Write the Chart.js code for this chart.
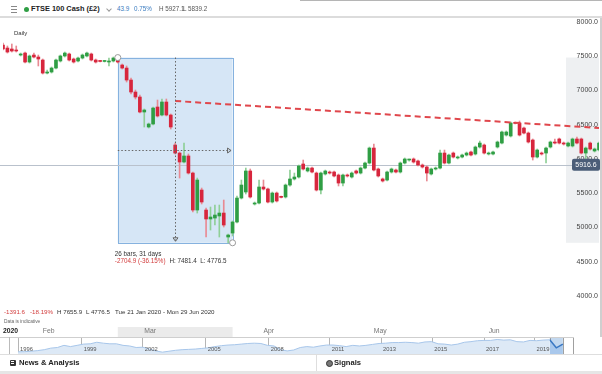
<!DOCTYPE html>
<html>
<head>
<meta charset="utf-8">
<script src="https://cdn.jsdelivr.net/npm/chart.js@4.4.1/dist/chart.umd.min.js"></script>
<style>
body{margin:0;width:602px;height:374px;overflow:hidden;background:#fff;position:relative;font-family:"Liberation Sans",Arial,sans-serif;color:#333}
.abs{position:absolute;white-space:nowrap;line-height:1}
canvas{position:absolute}
</style>
</head>
<body>
<canvas id="main" width="602" height="337" style="left:0;top:0"></canvas>
<canvas id="nav" width="556" height="17" style="left:18px;top:337px"></canvas>

<!-- header -->
<div class="abs" style="left:0;top:0;width:602px;height:16px;background:#fff;border-bottom:2px solid #dcdcdc"></div>
<div class="abs" style="left:300px;top:0;width:302px;height:1px;background:#b5b5b5"></div>
<div class="abs" style="left:11px;top:6px;width:6px;height:1px;background:#888;box-shadow:0 3px 0 #888,0 6px 0 #888"></div>
<div class="abs" style="left:24px;top:7px;width:5px;height:5px;border-radius:50%;background:#2f9e44"></div>
<div class="abs" style="left:31px;top:5px;font-size:7.4px;font-weight:bold;color:#222">FTSE 100 Cash (£2)</div>
<div class="abs" style="left:107px;top:7px;width:3px;height:3px;border-right:1px solid #999;border-bottom:1px solid #999;transform:rotate(45deg)"></div>
<div class="abs" style="left:117px;top:6px;font-size:6.3px;color:#3b7cc0">43.9</div>
<div class="abs" style="left:134px;top:6px;font-size:6.3px;color:#3b7cc0">0.75%</div>
<div class="abs" style="left:159px;top:6px;font-size:6.3px;color:#555">H 5927.1</div>
<div class="abs" style="left:183px;top:6px;font-size:6.3px;color:#555">L 5839.2</div>
<div class="abs" style="left:14px;top:30px;font-size:6px;color:#333">Daily</div>

<!-- right border -->
<div class="abs" style="left:600px;top:18px;width:2px;height:319px;background:#cfcfcf"></div>

<!-- info lines -->
<div class="abs" style="left:4px;top:309px;font-size:6.2px;color:#d23c3c">-1391.6</div>
<div class="abs" style="left:30px;top:309px;font-size:6.2px;color:#d23c3c">-18.19%</div>
<div class="abs" style="left:57px;top:309px;font-size:6.2px;color:#333">H 7655.9</div>
<div class="abs" style="left:86px;top:309px;font-size:6.2px;color:#333">L 4776.5</div>
<div class="abs" style="left:115px;top:309px;font-size:6.2px;color:#333">Tue 21 Jan 2020 - Mon 29 Jun 2020</div>
<div class="abs" style="left:4px;top:320px;font-size:4.8px;color:#666">Data is indicative</div>

<!-- navigator frame -->
<div class="abs" style="left:0;top:337px;width:574px;height:0;border-top:1px solid #cfcfcf"></div>
<div class="abs" style="left:9px;top:337px;width:1px;height:17px;background:#bbb"></div>
<div class="abs" style="left:0;top:354px;width:602px;height:0;border-top:1px solid #dedede"></div>

<!-- bottom bar -->
<div class="abs" style="left:0;top:371px;width:602px;height:3px;background:#e6e6e6"></div>
<div class="abs" style="left:316px;top:355px;width:1px;height:16px;background:#dedede"></div>
<div class="abs" style="left:10px;top:360px;width:6px;height:6px;background:#333;border-radius:1px"></div>
<div class="abs" style="left:11px;top:361px;width:3px;height:1px;background:#fff;box-shadow:0 2px 0 #fff"></div>
<div class="abs" style="left:19px;top:359px;font-size:7.6px;font-weight:bold;color:#222">News &amp; Analysis</div>
<div class="abs" style="left:326px;top:360px;width:5px;height:5px;border-radius:50%;border:1px solid #333;background:#777"></div>
<div class="abs" style="left:334px;top:359px;font-size:7.6px;font-weight:bold;color:#222">Signals</div>

<script>
// daily candles, Tue 21 Jan 2020 - Mon 29 Jun 2020
const candleOpen = [
  7664, 7620, 7606, 7591, 7518, 7547, 7416, 7518, 7489, 7445, 7255, 7270, 7328, 7431, 7504, 7533, 7460, 7431, 7474, 7504,
  7533, 7445, 7431, 7424, 7416, 7431, 7445, 7372, 7328, 7153, 6978, 6905, 6686, 6467, 6511, 6759, 6642, 6832, 6642, 6204,
  6087, 5956, 6044, 5795, 5255, 5547, 5255, 5124, 5138, 5168, 5211, 4861, 4919, 5080, 5430, 5518, 5825, 5343, 5357, 5591,
  5562, 5372, 5503, 5445, 5445, 5620, 5708, 5737, 5927, 5825, 5868, 5795, 5547, 5781, 5810, 5810, 5766, 5649, 5766, 5737,
  5825, 5795, 5868, 5941, 6160, 5854, 5708, 5693, 5810, 5839, 5810, 5941, 5985, 6000, 5971, 5912, 5883, 5781, 5854, 5868,
  6087, 5941, 6087, 6015, 6029, 6058, 6102, 6073, 6175, 6204, 6073, 6073, 6175, 6233, 6350, 6336, 6525, 6525, 6452, 6379,
  6277, 6029, 6087, 6087, 6175, 6248, 6292, 6233, 6190, 6190, 6292, 6292, 6087, 6233, 6117, 6131
];
const candleHigh = [
  7693, 7650, 7679, 7650, 7547, 7562, 7518, 7547, 7518, 7460, 7299, 7343, 7460, 7518, 7562, 7547, 7474, 7489, 7533, 7562,
  7547, 7460, 7440, 7440, 7474, 7489, 7481.4, 7387, 7358, 7182, 7007, 6934, 6730, 6525, 6759, 6861, 6876, 6876, 6657, 6233,
  6102, 6233, 6073, 5810, 5722, 5576, 5284, 5299, 5328, 5328, 5401, 4905, 5095, 5460, 5693, 5868, 5854, 5372, 5693, 5693,
  5576, 5518, 5518, 5460, 5635, 5839, 5795, 5912, 5985, 5883, 5883, 5810, 5810, 5839, 5825, 5825, 5781, 5781, 5781, 5810,
  5839, 5883, 5956, 6175, 6219, 5868, 5722, 5825, 5868, 5854, 5956, 6015, 6000, 6015, 5985, 5927, 5898, 5868, 5883, 6131,
  6131, 6073, 6102, 6044, 6073, 6102, 6117, 6190, 6262, 6219, 6102, 6117, 6262, 6409, 6409, 6540, 6540, 6555, 6467, 6394,
  6292, 6146, 6102, 6175, 6262, 6292, 6306, 6248, 6248, 6306, 6321, 6306, 6175, 6248, 6160, 6248
];
const candleLow = [
  7591, 7547, 7562, 7562, 7504, 7401, 7401, 7474, 7358, 7241, 7241, 7255, 7314, 7416, 7489, 7431, 7401, 7416, 7460, 7489,
  7431, 7401, 7416, 7416, 7358, 7416, 7401, 7314, 7124, 6949, 6876, 6671, 6467, 6452, 6496, 6613, 6628, 6628, 6438, 6073,
  5722, 5941, 5780, 5226, 5211, 5343, 4861, 4963, 5036, 4861, 5007, 4776.5, 4876, 5066, 5416, 5489, 5430, 5328, 5343, 5547,
  5357, 5357, 5372, 5430, 5430, 5605, 5693, 5722, 5839, 5810, 5795, 5533, 5489, 5766, 5781, 5737, 5606, 5606, 5737, 5722,
  5781, 5781, 5854, 5927, 5825, 5737, 5664, 5679, 5795, 5795, 5795, 5927, 5970, 5941, 5898, 5868, 5679, 5766, 5839, 5854,
  5927, 5927, 6015, 6000, 6015, 6044, 6044, 6058, 6160, 6073, 6058, 6058, 6160, 6219, 6335, 6321, 6511, 6336, 6365, 6233,
  5985, 6015, 6058, 5941, 6160, 6219, 6219, 6204, 6175, 6175, 6219, 6073, 5985, 6131, 6102, 6117
];
const candleClose = [
  7606, 7562, 7577, 7577, 7533, 7416, 7504, 7489, 7460, 7255, 7270, 7328, 7445, 7504, 7547, 7445, 7416, 7474, 7518, 7547,
  7445, 7416, 7424, 7431, 7431, 7474, 7416, 7328, 7153, 6978, 6905, 6686, 6715, 6511, 6744, 6628, 6832, 6642, 6467, 6087,
  5956, 6044, 5795, 5255, 5693, 5372, 5124, 5153, 5182, 5211, 5036, 4890, 5080, 5430, 5620, 5825, 5445, 5357, 5591, 5562,
  5372, 5503, 5387, 5440, 5620, 5708, 5737, 5898, 5854, 5868, 5810, 5547, 5795, 5825, 5795, 5752, 5649, 5766, 5752, 5795,
  5795, 5868, 5941, 6160, 5839, 5752, 5679, 5810, 5854, 5810, 5941, 6000, 5990, 5956, 5912, 5883, 5795, 5854, 5868, 6087,
  5941, 6058, 6029, 6029, 6058, 6087, 6058, 6175, 6233, 6087, 6087, 6102, 6248, 6394, 6394, 6525, 6520, 6350, 6379, 6248,
  6029, 6131, 6073, 6160, 6248, 6233, 6233, 6219, 6233, 6292, 6233, 6087, 6160, 6146, 6146, 6233
];
const monthNames = ['2020', 'Feb', 'Mar', 'Apr', 'May', 'Jun'];
const monthStart = [0, 9, 32, 59, 84, 110];
const priceTicks = [4000, 4500, 5000, 5500, 6000, 6500, 7000, 7500, 8000];

// drawn tools
const trendIdx = [39, 135];
const trendValues = [6847, 6452];
const measureIdx = [26, 52];
const measureHigh = 7481.4;
const measureLow = 4776.5;
const measureBars = 26;
const measureDays = 31;
const lastPrice = 5916.6;

// navigator (FTSE 100 history, 1996 - 2020)
const navValues = [
  3700, 3750, 3900, 4100, 4400, 4900, 5100, 5800, 5400, 5800, 6200, 6300, 6800, 6500, 6300, 6300, 5800, 5600, 5100, 5200,
  4600, 4000, 3600, 3900, 4200, 4400, 4500, 4600, 4800, 5000, 5400, 5700, 5900, 6000, 6200, 6400, 6500, 6400, 5800, 5600,
  4400, 4000, 4300, 5100, 5400, 5200, 5600, 5900, 5900, 5700, 5400, 5800, 5600, 5800, 6100, 6400, 6500, 6700, 6700, 6800,
  6700, 6500, 6900, 7000, 6300, 6200, 5900, 6200, 6800, 7000, 7300, 7400, 7400, 7700, 7500, 7600, 7000, 6900, 7400, 7300,
  7500, 7600, 5000, 6200
];
const navTickAt = [0, 9.7, 19.0, 28.6, 38.2, 47.5, 55.3, 63.1, 71.0, 78.7];
const navTickLabels = ['1996', '1999', '2002', '2005', '2008', '2011', '2013', '2015', '2017', '2019'];
const navWindow = [81, 83];

Chart.defaults.font.family = '"Liberation Sans", Arial, sans-serif';

const GREEN = '#2f9e44', RED = '#d7263d';
const labels = candleOpen.map((o, i) => {
  const k = monthStart.indexOf(i);
  return k >= 0 ? monthNames[k] : '';
});
const up = candleOpen.map((o, i) => candleClose[i] >= o);
const bodies = candleOpen.map((o, i) => [o, candleClose[i]]);
const wicks = candleLow.map((l, i) => [l, candleHigh[i]]);
const trend = labels.map((_, i) => i === trendIdx[0] ? trendValues[0] : i === trendIdx[1] ? trendValues[1] : null);

const tools = {
  id: 'tools',
  beforeDraw(chart) {
    const { ctx, chartArea: a, scales: { x, y } } = chart;
    const top = y.getPixelForValue(measureHigh), bot = y.getPixelForValue(measureLow);
    const l = x.getPixelForValue(measureIdx[0]), r = x.getPixelForValue(measureIdx[1]);
    ctx.save();
    ctx.fillStyle = '#eef0f2';
    ctx.fillRect(a.right - 33, top, 33, bot - top);
    ctx.fillStyle = '#ebebeb';
    ctx.fillRect(l, a.bottom + 3, r - l, 10);
    ctx.restore();
  },
  beforeDatasetsDraw(chart) {
    const { ctx, chartArea: a, scales: { x, y } } = chart;
    const top = y.getPixelForValue(measureHigh), bot = y.getPixelForValue(measureLow);
    const l = x.getPixelForValue(measureIdx[0]), r = x.getPixelForValue(measureIdx[1]);
    ctx.save();
    ctx.fillStyle = '#d6e6f6';
    ctx.fillRect(l, top, r - l, bot - top);
    ctx.strokeStyle = '#86b2df';
    ctx.lineWidth = 1;
    ctx.strokeRect(Math.round(l) + 0.5, Math.round(top) + 0.5, Math.round(r - l), Math.round(bot - top));
    // last price line
    const py = Math.round(y.getPixelForValue(lastPrice)) + 0.5;
    ctx.strokeStyle = '#b9c1cc';
    ctx.beginPath(); ctx.moveTo(0, py); ctx.lineTo(a.right + 3, py); ctx.stroke();
    ctx.restore();
  },
  afterDatasetsDraw(chart) {
    const { ctx, chartArea: a, scales: { x, y } } = chart;
    const top = y.getPixelForValue(measureHigh), bot = y.getPixelForValue(measureLow);
    const l = x.getPixelForValue(measureIdx[0]), r = x.getPixelForValue(measureIdx[1]);
    const mx = Math.round(x.getPixelForValue((measureIdx[0] + measureIdx[1]) / 2)) + 0.5;
    const my = Math.round(y.getPixelForValue((measureHigh + measureLow) / 2)) + 0.5;
    ctx.save();
    ctx.strokeStyle = '#666';
    ctx.lineWidth = 1;
    ctx.setLineDash([1.5, 2]);
    ctx.beginPath();
    ctx.moveTo(mx, top); ctx.lineTo(mx, bot - 2);
    ctx.moveTo(l, my); ctx.lineTo(r - 2, my);
    ctx.stroke();
    ctx.setLineDash([]);
    ctx.beginPath();
    ctx.moveTo(mx - 2.5, bot - 5); ctx.lineTo(mx + 2.5, bot - 5); ctx.lineTo(mx, bot - 1.5); ctx.closePath();
    ctx.moveTo(r - 5, my - 2.5); ctx.lineTo(r - 5, my + 2.5); ctx.lineTo(r - 1.5, my); ctx.closePath();
    ctx.stroke();
    // end points
    ctx.strokeStyle = '#9a9a9a';
    ctx.fillStyle = '#fff';
    [[l, top], [r, bot]].forEach(([px, py]) => {
      ctx.beginPath(); ctx.arc(px, py, 3, 0, Math.PI * 2); ctx.fill(); ctx.stroke();
    });
    // measurement text
    const diff = measureLow - measureHigh;
    const pct = diff / measureHigh * 100;
    ctx.font = '6.3px "Liberation Sans", Arial, sans-serif';
    ctx.textBaseline = 'middle';
    ctx.fillStyle = '#333';
    ctx.fillText(measureBars + ' bars, ' + measureDays + ' days', l - 3, bot + 11);
    ctx.fillStyle = '#d23c3c';
    const t2 = diff.toFixed(1) + ' (' + pct.toFixed(2) + '%)';
    ctx.fillText(t2, l - 3, bot + 18);
    ctx.fillStyle = '#333';
    ctx.fillText('H: ' + measureHigh.toFixed(1) + '  L: ' + measureLow.toFixed(1), l - 3 + ctx.measureText(t2).width + 4, bot + 18);
    // last price tag
    const py = y.getPixelForValue(lastPrice);
    ctx.fillStyle = '#4b5d78';
    ctx.beginPath();
    ctx.roundRect(a.right - 27, py - 6, 28, 12, 2);
    ctx.fill();
    ctx.fillStyle = '#fff';
    ctx.font = '7px "Liberation Sans", Arial, sans-serif';
    ctx.textAlign = 'center';
    ctx.fillText(lastPrice.toFixed(1), a.right - 13, py + 0.5);
    ctx.restore();
  }
};

new Chart(document.getElementById('main'), {
  type: 'bar',
  data: {
    labels: labels,
    datasets: [
      {
        data: trend, type: 'line', borderColor: '#e0474c', borderWidth: 2, borderDash: [6, 4],
        pointRadius: 0, spanGaps: true, order: 0
      },
      {
        data: bodies, backgroundColor: up.map(u => u ? GREEN : RED),
        barThickness: 3, minBarLength: 1, grouped: false, order: 1
      },
      {
        data: wicks, backgroundColor: up.map(u => u ? '#8fcf97' : '#e88a93'),
        barThickness: 1, grouped: false, order: 2
      }
    ]
  },
  options: {
    responsive: false,
    animation: false,
    events: [],
    layout: { padding: { top: 19, left: 1, right: 0, bottom: 0 } },
    plugins: { legend: { display: false }, tooltip: { enabled: false } },
    scales: {
      x: {
        offset: false,
        grid: { display: false, drawTicks: false },
        border: { display: false },
        ticks: {
          autoSkip: false, maxRotation: 0, align: 'start', padding: 3,
          color: ctx => ctx.index === 0 ? '#222' : '#777',
          font: ctx => ({ size: 6.8, weight: ctx.index === 0 ? 'bold' : 'normal' })
        },
        afterFit: s => { s.height = 13; }
      },
      y: {
        position: 'right', min: 3591, max: 8044,
        grid: { display: false, drawTicks: false },
        border: { display: false },
        afterBuildTicks: s => { s.ticks = priceTicks.map(v => ({ value: v })); },
        ticks: {
          mirror: true, padding: -1,
          color: '#444', font: { size: 7 },
          callback: v => v.toFixed(1)
        },
        afterFit: s => { s.width = 3; }
      }
    }
  },
  plugins: [tools]
});

const navLabels = {
  id: 'navLabels',
  beforeDatasetsDraw(chart) {
    const { ctx, chartArea: a, scales: { x } } = chart;
    const l = x.getPixelForValue(navWindow[0]), r = x.getPixelForValue(navWindow[1]);
    ctx.save();
    ctx.fillStyle = '#c3d8ef';
    ctx.fillRect(l, a.top, r - l, a.bottom - a.top);
    ctx.strokeStyle = '#a0a0a0';
    ctx.beginPath();
    ctx.moveTo(Math.round(l) + 0.5, a.top); ctx.lineTo(Math.round(l) + 0.5, a.bottom);
    ctx.moveTo(Math.round(r) + 0.5, a.top); ctx.lineTo(Math.round(r) + 0.5, a.bottom);
    ctx.moveTo(a.right - 0.5, a.top); ctx.lineTo(a.right - 0.5, a.bottom);
    ctx.stroke();
    ctx.restore();
  },
  afterDraw(chart) {
    const { ctx, scales: { x } } = chart;
    ctx.save();
    ctx.font = '5.8px "Liberation Sans", Arial, sans-serif';
    ctx.fillStyle = '#555';
    ctx.textBaseline = 'middle';
    navTickAt.forEach((v, i) => ctx.fillText(navTickLabels[i], x.getPixelForValue(v) + 2, 12.5));
    ctx.restore();
  }
};

new Chart(document.getElementById('nav'), {
  type: 'line',
  data: {
    datasets: [
      {
        data: navValues.map((v, i) => ({ x: i, y: v })).filter(p => p.x <= navWindow[0]),
        fill: 'start', backgroundColor: '#dde9f6', borderColor: '#a7c6ea', borderWidth: 1, pointRadius: 0
      },
      {
        data: navValues.map((v, i) => ({ x: i, y: v })).filter(p => p.x >= navWindow[0]),
        fill: 'start', backgroundColor: '#a9c8ec', borderColor: '#3a78c3', borderWidth: 1.5, pointRadius: 0
      }
    ]
  },
  options: {
    responsive: false,
    animation: false,
    events: [],
    layout: { padding: 0 },
    plugins: { legend: { display: false }, tooltip: { enabled: false } },
    scales: {
      x: {
        type: 'linear', min: 0, max: 84.7,
        afterBuildTicks: s => { s.ticks = navTickAt.map(v => ({ value: v })); },
        grid: { color: '#b5b5b5', drawTicks: false },
        border: { display: false },
        ticks: { display: false },
        afterFit: s => { s.height = 0; }
      },
      y: { display: false, min: 3000, max: 8500 }
    }
  },
  plugins: [navLabels]
});
</script>
</body>
</html>
